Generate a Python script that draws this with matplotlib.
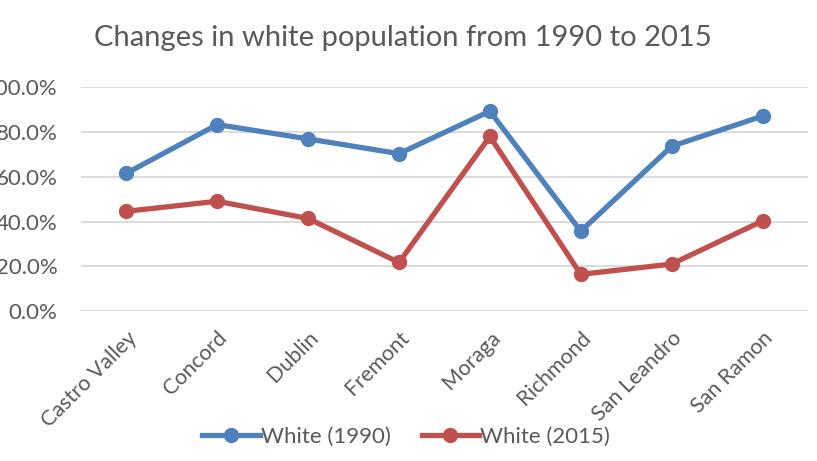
import numpy as np
import matplotlib
matplotlib.use("Agg")
import matplotlib.pyplot as plt

cities = ["Castro Valley", "Concord", "Dublin", "Fremont", "Moraga",
          "Richmond", "San Leandro", "San Ramon"]
white_1990 = [0.616, 0.834, 0.770, 0.704, 0.894, 0.357, 0.737, 0.872]
white_2015 = [0.446, 0.491, 0.414, 0.217, 0.781, 0.164, 0.210, 0.403]
yticks = [0.0, 0.2, 0.4, 0.6, 0.8, 1.0]

blue = "#4F81BD"
red = "#C0504D"
grey = "#595959"

plt.rcParams["font.family"] = ["Lato", "DejaVu Sans"]

fig = plt.figure(figsize=(8.17, 4.61), dpi=100)
ax = fig.add_axes([0.099, 0.3254, 0.890, 0.4848])

x = np.arange(len(cities))
ax.plot(x, white_1990, color=blue, lw=3.8, marker="o", ms=10, label="White (1990)")
ax.plot(x, white_2015, color=red, lw=3.8, marker="o", ms=10, label="White (2015)")

ax.set_xlim(-0.5, len(cities) - 0.5)
ax.set_ylim(0, 1)
ax.set_yticks(yticks)
ax.set_yticklabels([f"{v*100:.1f}%" for v in yticks], fontsize=16, color=grey)
ax.set_xticks(x)
ax.set_xticklabels(cities, rotation=45, ha="right", va="top", rotation_mode="anchor",
                   fontsize=15.5, color=grey)
ax.tick_params(axis="y", length=0, pad=17)
ax.tick_params(axis="x", length=0, pad=12)
ax.grid(axis="y", color="#D9D9D9", lw=1.3)
ax.set_axisbelow(True)
for s in ax.spines.values():
    s.set_visible(False)

fig.text(0.493, 0.918, "Changes in white population from 1990 to 2015",
         ha="center", va="center", fontsize=21, color=grey)

fig.legend(loc="center", bbox_to_anchor=(0.497, 0.052), ncol=2, frameon=False,
           fontsize=16, labelcolor=grey, handlelength=2.6, handletextpad=0.05,
           columnspacing=1.4)

fig.savefig("out.png", dpi=100)
